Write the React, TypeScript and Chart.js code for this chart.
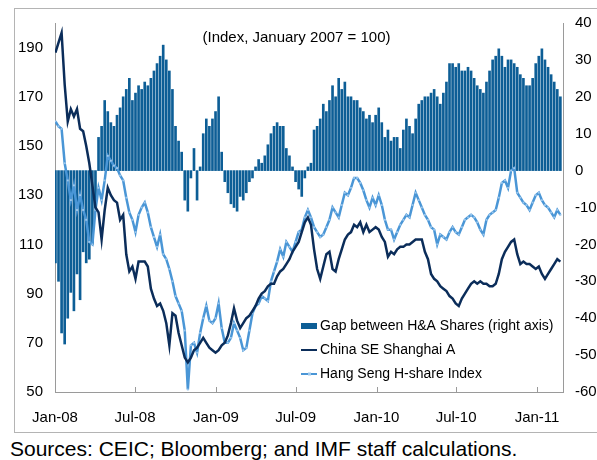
import React, { useEffect, useRef } from "react";
import { Chart, registerables } from "chart.js";

Chart.register(...registerables);

// ---- Data (weekly observations, Jan 2008 – Feb 2011) ----
const FIRST_DAY = 1; // day offset from 1 Jan 2008 of first weekly observation
const DAYS_PER_OBS = 7;

// Gap between H&A shares (right axis)
const gapHA = [
  -25, -30, -44, -47, -40, -33, -38, -28, -35, -22,
  -25, -24, -20, -10, 9, 12, 19, 16, 13, 12,
  15, 17, 20, 22, 25, 19, 21, 23, 22, 24,
  23, 25, 27, 29, 31, 34, 30, 27, 22, 12,
  8, 5, -8, -11, -2, 6, -8, 1, 10, 14,
  12, 14, 16, 20, 5, -3, -6, -9, -10, -11,
  -7, -8, -6, -3, -2, 1, 3, 2, 4, 7,
  10, 12, 13, 12, 12, 6, 4, 1, -3, -5,
  -7, -2, 1, 2, 11, 12, 14, 18, 16, 19,
  23, 20, 25, 22, 24, 20, 20, 19, 19, 17,
  16, 14, 15, 13, 15, 17, 13, 9, 11, 8,
  9, 9, 6, 11, 14, 12, 10, 14, 18, 19,
  20, 20, 21, 22, 20, 18, 21, 24, 29, 29,
  28, 29, 27, 27, 28, 27, 25, 23, 22, 21,
  24, 27, 30, 31, 33, 31, 28, 30, 30, 29,
  28, 26, 25, 23, 23, 25, 29, 31, 33, 30,
  28, 26, 24, 22, 20,
];

// China SE Shanghai A (Index, Jan 2007 = 100)
const shanghaiA = [
  188, 192, 196, 175, 160, 165, 162, 165, 157, 156,
  150, 143, 134, 125, 123, 112, 124, 133, 130, 128,
  127, 120, 122, 106, 99, 101, 96, 103, 103, 103,
  101, 92, 88, 85, 86, 83, 78, 69, 82, 81,
  74, 69, 64, 62, 64, 67, 68, 70, 72, 70,
  68, 67, 66, 67, 69, 70, 73, 78, 84, 79,
  76, 78, 80, 81, 83, 85, 88, 90, 91, 93,
  94, 94, 97, 99, 100, 102, 104, 107, 109, 111,
  115, 119, 121, 118, 108, 100, 96, 101, 106, 107,
  100, 99, 104, 108, 112, 114, 115, 118, 117, 119,
  115, 118, 115, 116, 117, 116, 113, 111, 105, 107,
  106, 108, 109, 109, 110, 110, 111, 112, 112, 112,
  107, 104, 98, 96, 95, 93, 92, 91, 89, 88,
  86, 85, 88, 90, 92, 94, 95, 94, 95, 94,
  94, 93, 93, 94, 98, 104, 107, 109, 111, 112,
  106, 102, 103, 102, 102, 101, 100, 101, 98, 96,
  98, 100, 102, 104, 103,
];

// Hang Seng H-share Index (Index, Jan 2007 = 100)
const hShare = [
  160, 158, 157, 143, 136, 128, 134, 124, 130, 124,
  120, 111, 110, 124, 133, 128, 136, 146, 144, 142,
  141, 138, 136, 129, 123, 120, 115, 122, 125, 127,
  123, 117, 113, 109, 114, 106, 104, 100, 95, 89,
  86, 83, 75, 51, 69, 70, 66, 74, 80, 85,
  79, 78, 80, 86, 76, 70, 70, 72, 78, 75,
  72, 67, 68, 75, 82, 85, 86, 89, 88, 87,
  95, 99, 103, 108, 105, 111, 109, 107, 111, 115,
  116, 121, 124, 121, 117, 115, 113, 114, 117, 120,
  125, 123, 121, 126, 131, 130, 133, 137, 137, 135,
  132, 128, 125, 129, 126, 130, 126, 120, 116, 116,
  112, 115, 118, 120, 122, 121, 126, 131, 128, 125,
  122, 120, 117, 116, 110, 114, 113, 112, 115, 117,
  115, 114, 117, 120, 121, 122, 121, 119, 116, 114,
  120, 122, 123, 124, 129, 135, 136, 133, 140, 141,
  131, 129, 127, 126, 124, 127, 130, 131, 128, 126,
  125, 123, 121, 124, 122,
];

// Axis ticks
const xTickDays = [0, 182, 366, 547, 731, 912, 1096];
const xTickLabels = ["Jan-08", "Jul-08", "Jan-09", "Jul-09", "Jan-10", "Jul-10", "Jan-11"];
const X_MAX_DAY = 1155;
const leftTicks = [50, 70, 90, 110, 130, 150, 170, 190];
const rightTicks = [-60, -50, -40, -30, -20, -10, 0, 10, 20, 30, 40];

const TITLE = "(Index, January 2007 = 100)";
const SOURCE = "Sources: CEIC; Bloomberg; and IMF staff calculations.";
const LABEL_GAP = "Gap between H&A Shares (right axis)";
const LABEL_SH = "China SE Shanghai A";
const LABEL_HS = "Hang Seng H-share Index";

const COLOR_BAR = "#0d5e96";
const COLOR_DARK = "#0b2d5a";
const COLOR_LIGHT = "#4a96d6";
const COLOR_AXIS = "#9a9a9a";
const FONT = '"Liberation Sans", Arial, Helvetica, sans-serif';

const toXY = (arr: number[]) =>
  arr.map((v, i) => ({ x: FIRST_DAY + i * DAYS_PER_OBS, y: v }));

const overlayPlugin = {
  id: "overlay",
  afterDraw(chart: any) {
    const { ctx, chartArea, scales } = chart;
    ctx.save();
    // inside tick marks on x axis
    ctx.strokeStyle = COLOR_AXIS;
    ctx.lineWidth = 1;
    xTickDays.forEach((d) => {
      const px = Math.round(scales.x.getPixelForValue(d)) + 0.5;
      ctx.beginPath();
      ctx.moveTo(px, chartArea.bottom);
      ctx.lineTo(px, chartArea.bottom - 5);
      ctx.stroke();
    });
    // title
    ctx.fillStyle = "#000";
    ctx.font = `15px ${FONT}`;
    ctx.textAlign = "center";
    ctx.textBaseline = "middle";
    ctx.fillText(TITLE, 288.5, 30);
    // legend
    const lx = 293;
    const tx = 312;
    const rows = [318, 342, 366];
    ctx.font = `14px ${FONT}`;
    ctx.textAlign = "left";
    ctx.fillStyle = COLOR_BAR;
    ctx.fillRect(lx, rows[0] - 3, 16, 6);
    ctx.lineWidth = 2;
    ctx.strokeStyle = COLOR_DARK;
    ctx.beginPath();
    ctx.moveTo(lx, rows[1]);
    ctx.lineTo(lx + 16, rows[1]);
    ctx.stroke();
    ctx.strokeStyle = COLOR_LIGHT;
    ctx.beginPath();
    ctx.moveTo(lx, rows[2]);
    ctx.lineTo(lx + 16, rows[2]);
    ctx.stroke();
    ctx.fillStyle = "#9cc8ee";
    ctx.fillRect(lx + 7, rows[2] - 1.5, 3, 3);
    ctx.fillStyle = "#000";
    ctx.fillText(LABEL_GAP, tx, rows[0]);
    ctx.fillText(LABEL_SH, tx, rows[1]);
    ctx.fillText(LABEL_HS, tx, rows[2]);
    ctx.restore();
  },
};

function ChartCanvas() {
  const ref = useRef<HTMLCanvasElement | null>(null);
  useEffect(() => {
    if (!ref.current) return;
    const tickFont = { family: FONT, size: 15 };
    const chart = new Chart(ref.current, {
      type: "bar",
      data: {
        datasets: [
          {
            type: "line",
            label: LABEL_SH,
            data: toXY(shanghaiA),
            yAxisID: "y",
            borderColor: COLOR_DARK,
            borderWidth: 2.5,
            pointRadius: 0,
            tension: 0,
            order: 1,
          } as any,
          {
            type: "line",
            label: LABEL_HS,
            data: toXY(hShare),
            yAxisID: "y",
            borderColor: COLOR_LIGHT,
            borderWidth: 2.5,
            pointRadius: 1.3,
            pointStyle: "rect",
            pointBackgroundColor: "#9cc8ee",
            pointBorderColor: "#9cc8ee",
            pointBorderWidth: 0,
            tension: 0,
            order: 2,
          } as any,
          {
            type: "bar",
            label: LABEL_GAP,
            data: toXY(gapHA),
            yAxisID: "y1",
            backgroundColor: COLOR_BAR,
            barThickness: 2,
            order: 3,
          } as any,
        ],
      },
      options: {
        responsive: false,
        maintainAspectRatio: false,
        animation: false,
        devicePixelRatio: 1,
        layout: { padding: { top: 15, left: 0, right: 0, bottom: 0 } },
        plugins: { legend: { display: false }, tooltip: { enabled: false } },
        scales: {
          x: {
            type: "linear",
            min: 0,
            max: X_MAX_DAY,
            offset: false,
            grid: { display: false, drawTicks: false },
            border: { display: true, color: COLOR_AXIS, width: 1 },
            afterBuildTicks: (s: any) => {
              s.ticks = xTickDays.map((v) => ({ value: v }));
            },
            afterFit: (s: any) => {
              s.height = 40;
              s.paddingLeft = 0;
              s.paddingRight = 0;
            },
            ticks: {
              autoSkip: false,
              maxRotation: 0,
              minRotation: 0,
              padding: 17,
              color: "#000",
              font: tickFont,
              callback: (v: any) => {
                const i = xTickDays.indexOf(Number(v));
                return i >= 0 ? xTickLabels[i] : "";
              },
            },
          },
          y: {
            type: "linear",
            position: "left",
            min: 50,
            max: 200,
            grid: { display: false, drawTicks: false },
            border: { display: true, color: COLOR_AXIS, width: 1 },
            afterBuildTicks: (s: any) => {
              s.ticks = leftTicks.map((v) => ({ value: v }));
            },
            afterFit: (s: any) => {
              s.width = 47;
              s.paddingTop = 0;
              s.paddingBottom = 0;
            },
            ticks: { padding: 12, color: "#000", font: tickFont },
          },
          y1: {
            type: "linear",
            position: "right",
            min: -60,
            max: 40,
            grid: { display: false, drawTicks: false },
            border: { display: true, color: COLOR_AXIS, width: 1 },
            afterBuildTicks: (s: any) => {
              s.ticks = rightTicks.map((v) => ({ value: v }));
            },
            afterFit: (s: any) => {
              s.width = 34;
              s.paddingTop = 0;
              s.paddingBottom = 0;
            },
            ticks: { padding: 12, color: "#000", font: tickFont },
          },
        },
      } as any,
      plugins: [overlayPlugin],
    });
    return () => chart.destroy();
  }, []);
  return (
    <canvas
      ref={ref}
      width={589}
      height={424}
      style={{ width: 589, height: 424, display: "block" }}
    />
  );
}

export default function App() {
  return (
    <div
      style={{
        position: "fixed",
        left: 0,
        top: 0,
        width: 597,
        height: 460,
        overflow: "hidden",
        background: "#fff",
      }}
    >
      <div
        style={{
          position: "absolute",
          left: 14,
          top: 8,
          width: 600,
          height: 425,
          boxSizing: "border-box",
          border: "1px solid #b4b4b4",
        }}
      />
      <div style={{ position: "absolute", left: 8, top: 8 }}>
        <ChartCanvas />
      </div>
      <div
        style={{
          position: "absolute",
          left: 10,
          top: 437,
          fontFamily: FONT,
          fontSize: 21,
          lineHeight: "24px",
          whiteSpace: "nowrap",
          color: "#000",
        }}
      >
        {SOURCE}
      </div>
    </div>
  );
}
